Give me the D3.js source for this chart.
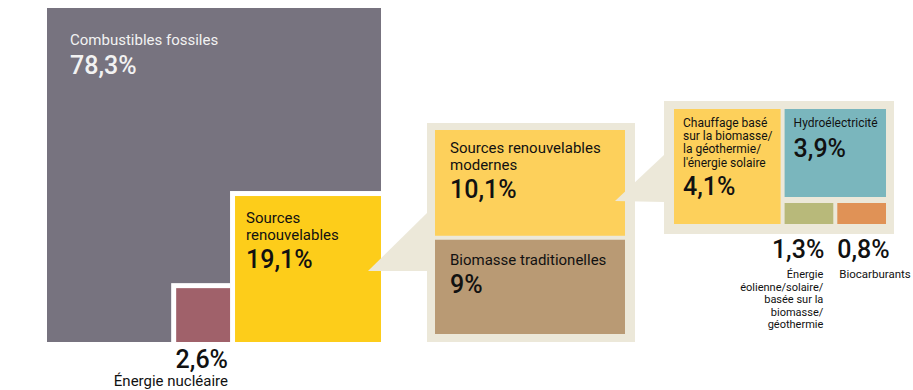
<!DOCTYPE html>
<html>
<head>
<meta charset="utf-8">
<script src="https://cdn.jsdelivr.net/npm/d3@7"></script>
<style>
  body { margin: 0; background: #fff; }
  text { font-family: Roboto, "Liberation Sans", sans-serif; }
</style>
</head>
<body>
<div id="chart"></div>
<script>
// energy mix, share of final consumption (%)
var mainLabels = [["Combustibles fossiles"], ["Sources", "renouvelables"], ["Énergie nucléaire"]];
var mainValues = [78.3, 19.1, 2.6];

var renewLabels = [["Sources renouvelables", "modernes"], ["Biomasse traditionelles"]];
var renewValues = [10.1, 9];

var modernLabels = [
  ["Chauffage basé", "sur la biomasse/", "la géothermie/", "l'énergie solaire"],
  ["Hydroélectricité"],
  ["Énergie", "éolienne/solaire/", "basée sur la", "biomasse/", "géothermie"],
  ["Biocarburants"]
];
var modernValues = [4.1, 3.9, 1.3, 0.8];

var colors = {
  fossil: "#77737f", nuclear: "#a0616a", renew: "#fdcd1a",
  modern: "#fdd05b", trad: "#b99a74", panel: "#ece8d9",
  hydro: "#7ab6bd", wind: "#b8b97a", bio: "#e09256"
};

function fmt(v) { return String(v).replace(".", ",") + "%"; }

var width = 913, height = 390, gap = 5;

var svg = d3.select("#chart").append("svg")
  .attr("width", width)
  .attr("height", height);

// write a label with several lines
function label(x, y, lines, size, fill, anchor, lh) {
  var t = svg.append("text")
    .attr("x", x).attr("y", y)
    .attr("text-anchor", anchor || "start")
    .style("font-size", size + "px")
    .style("fill", fill);
  lines.forEach(function(l, i) {
    t.append("tspan").attr("x", x).attr("y", y + i * (lh || size * 1.1)).text(l);
  });
  return t;
}
function big(x, y, v, fill, anchor) {
  return svg.append("text")
    .attr("x", x).attr("y", y)
    .attr("text-anchor", anchor || "start")
    .style("font-size", "25px")
    .style("font-weight", 500)
    .style("fill", fill)
    .text(fmt(v));
}

// ---- main square: areas via sqrt scale
var side = d3.scaleSqrt().domain([0, d3.sum(mainValues)]).range([0, 334]);
var mx = 47, my = 8, full = side(d3.sum(mainValues));

svg.append("rect")
  .attr("x", mx).attr("y", my)
  .attr("width", full).attr("height", full)
  .style("fill", colors.fossil);

var rs = side(mainValues[1]);
var renew = { x0: mx + full - rs, y0: my + full - rs, x1: mx + full, y1: my + full };
var ns = side(mainValues[2]);
var nuc = { x0: renew.x0 - gap - ns, y0: my + full - ns, x1: renew.x0 - gap, y1: my + full };

[renew, nuc].forEach(function(b, i) {
  svg.append("rect")
    .attr("x", b.x0 - gap).attr("y", b.y0 - gap)
    .attr("width", b.x1 - b.x0 + gap).attr("height", b.y1 - b.y0 + gap)
    .style("fill", "#fff");
  svg.append("rect")
    .attr("x", b.x0).attr("y", b.y0)
    .attr("width", b.x1 - b.x0).attr("height", b.y1 - b.y0)
    .style("fill", i == 0 ? colors.renew : colors.nuclear);
});

label(mx + 23, my + 37, mainLabels[0], 15, "#f2f2f2");
big(mx + 23, my + 66, mainValues[0], "#f2f2f2");

label(renew.x0 + 11, renew.y0 + 27, mainLabels[1], 15, "#111", "start", 17);
big(renew.x0 + 11, renew.y0 + 72, mainValues[1], "#111");

big(nuc.x1 - 2, nuc.y1 + 26, mainValues[2], "#111", "end");
label(nuc.x1 - 2, nuc.y1 + 44, mainLabels[2], 15, "#111", "end");

// ---- panel 1: renewables split
var p1 = { x0: 427, y0: 123, x1: 635, y1: my + full };

// wedge from renewables box
var tip1 = [renew.x1 - 13, renew.y0 + 75];
svg.append("path")
  .attr("d", d3.line()([tip1, [p1.x0, tip1[1] - 58], [p1.x0, tip1[1]]]))
  .style("fill", colors.panel);

svg.append("rect")
  .attr("x", p1.x0).attr("y", p1.y0)
  .attr("width", p1.x1 - p1.x0).attr("height", p1.y1 - p1.y0)
  .style("fill", colors.panel);

var in1 = { x0: p1.x0 + 8, x1: p1.x1 - 10, y0: p1.y0 + 7, y1: p1.y1 - 8 };
var y1s = d3.scaleLinear().domain([0, d3.sum(renewValues)]).range([0, in1.y1 - in1.y0 - 4]);
var modern = { x0: in1.x0, x1: in1.x1, y0: in1.y0, y1: in1.y0 + y1s(renewValues[0]) };
var trad = { x0: in1.x0, x1: in1.x1, y0: modern.y1 + 4, y1: in1.y1 };

[modern, trad].forEach(function(b, i) {
  svg.append("rect")
    .attr("x", b.x0).attr("y", b.y0)
    .attr("width", b.x1 - b.x0).attr("height", b.y1 - b.y0)
    .style("fill", i == 0 ? colors.modern : colors.trad);
});

label(modern.x0 + 15, modern.y0 + 23, renewLabels[0], 15, "#111", "start", 16.5);
big(modern.x0 + 15, modern.y0 + 68, renewValues[0], "#111");
label(trad.x0 + 15, trad.y0 + 25, renewLabels[1], 15, "#111");
big(trad.x0 + 15, trad.y0 + 53, renewValues[1], "#111");

// ---- panel 2: modern renewables split
var p2 = { x0: 664, y0: 101, x1: 894, y1: 234 };

var tip2 = [modern.x1 - 10, modern.y0 + 71];
svg.append("path")
  .attr("d", d3.line()([tip2, [p2.x0, tip2[1] - 46], [p2.x0, tip2[1] + 1]]))
  .style("fill", colors.panel);

svg.append("rect")
  .attr("x", p2.x0).attr("y", p2.y0)
  .attr("width", p2.x1 - p2.x0).attr("height", p2.y1 - p2.y0)
  .style("fill", colors.panel);

var in2 = { x0: p2.x0 + 10, x1: p2.x1 - 8, y0: p2.y0 + 8, y1: p2.y1 - 10 };
var x2s = d3.scaleLinear()
  .domain([0, modernValues[0] + modernValues[1]])
  .range([0, in2.x1 - in2.x0 - 4]);

var heat = { x0: in2.x0, x1: in2.x0 + x2s(modernValues[0]), y0: in2.y0, y1: in2.y1 };
var rowH = 21;
var hydro = { x0: heat.x1 + 4, x1: in2.x1, y0: in2.y0, y1: in2.y1 - rowH - 6 };

var xb = d3.scaleBand()
  .domain([modernValues[2], modernValues[3]])
  .range([hydro.x0, hydro.x1 + 4])
  .paddingInner(0);
var wind = { x0: xb(modernValues[2]), x1: xb(modernValues[2]) + xb.bandwidth() - 4, y0: in2.y1 - rowH, y1: in2.y1 };
var bio = { x0: xb(modernValues[3]), x1: xb(modernValues[3]) + xb.bandwidth() - 4, y0: in2.y1 - rowH, y1: in2.y1 };

[[heat, colors.modern], [hydro, colors.hydro], [wind, colors.wind], [bio, colors.bio]].forEach(function(d) {
  var b = d[0];
  svg.append("rect")
    .attr("x", b.x0).attr("y", b.y0)
    .attr("width", b.x1 - b.x0).attr("height", b.y1 - b.y0)
    .style("fill", d[1]);
});

label(heat.x0 + 9, heat.y0 + 18, modernLabels[0], 12, "#111", "start", 13.2);
big(heat.x0 + 9, heat.y0 + 86, modernValues[0], "#111");
label(hydro.x0 + 9, hydro.y0 + 18, modernLabels[1], 12, "#111");
big(hydro.x0 + 9, hydro.y0 + 48, modernValues[1], "#111");

big(wind.x1 - 9, p2.y1 + 24, modernValues[2], "#111", "end");
label(wind.x1 - 10, p2.y1 + 44, modernLabels[2], 11, "#111", "end", 12.6);
big(bio.x0, p2.y1 + 24, modernValues[3], "#111");
label(bio.x0 + 2, p2.y1 + 44, modernLabels[3], 11.5, "#111");
</script>
</body>
</html>
